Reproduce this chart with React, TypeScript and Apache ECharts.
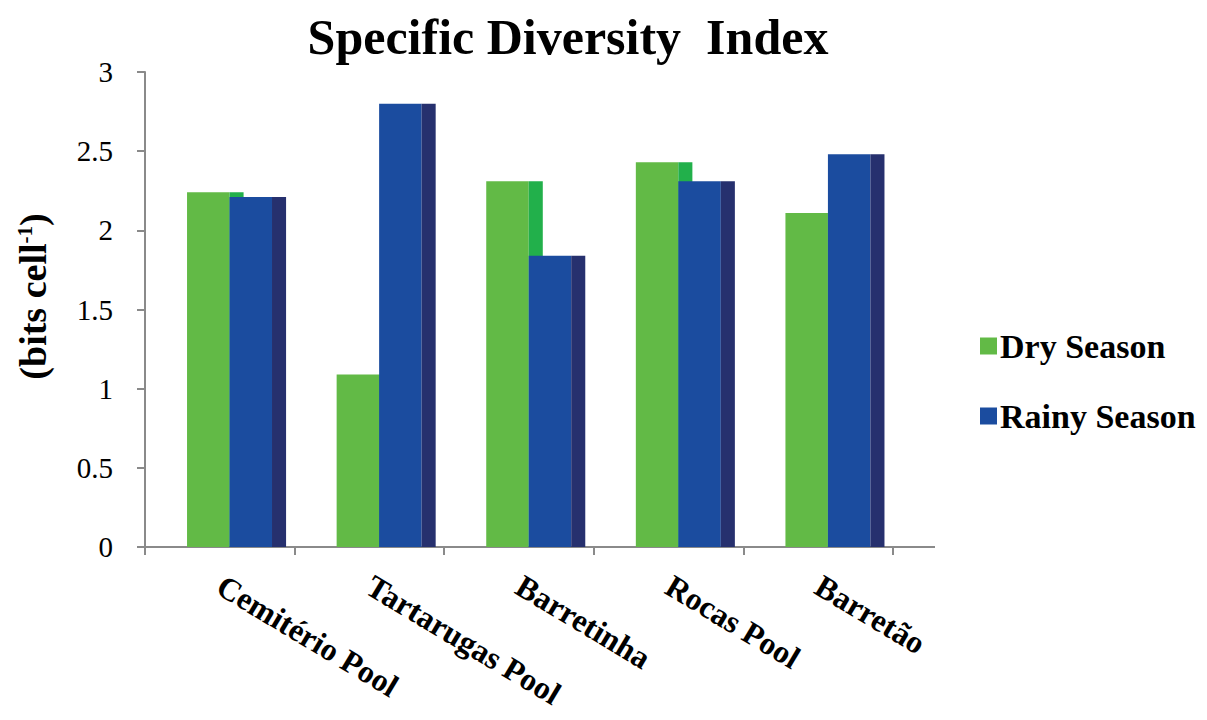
import React, { useEffect, useRef } from "react";
import * as echarts from "echarts";

const categories = ["Cemitério Pool", "Tartarugas Pool", "Barretinha", "Rocas Pool", "Barretão"];
const drySeason = [2.24, 1.09, 2.31, 2.43, 2.11];
const rainySeason = [2.21, 2.8, 1.84, 2.31, 2.48];
const yTicks = { min: 0, max: 3, interval: 0.5 };

const SERIF = "Liberation Serif";

function makeRender(offset: number, front: string, side: string) {
  return (params: any, api: any) => {
    const idx = api.value(0);
    const val = api.value(1);
    const base = api.coord([idx, 0]);
    const top = api.coord([idx, val]);
    const bw = api.size([1, 0])[0];
    const catStart = base[0] - bw / 2;
    const fw = bw * 0.284;
    const sw = bw * 0.094;
    const x0 = catStart + bw * offset;
    const h = base[1] - top[1];
    return {
      type: "group",
      children: [
        { type: "rect", shape: { x: x0, y: top[1], width: fw, height: h }, style: { fill: front } },
        { type: "rect", shape: { x: x0 + fw, y: top[1], width: sw, height: h }, style: { fill: side } },
      ],
    };
  };
}

export default function App() {
  const ref = useRef<HTMLDivElement>(null);
  useEffect(() => {
    if (!ref.current) return;
    const chart = echarts.init(ref.current, null, { renderer: "svg" });
    const dryData = drySeason.map((v, i) => [i, v]);
    const rainyData = rainySeason.map((v, i) => [i, v]);
    chart.setOption({
      animation: false,
      backgroundColor: "#ffffff",
      title: {
        text: "Specific Diversity  Index",
        left: 563,
        top: 7,
        textAlign: "center",
        textStyle: { fontFamily: SERIF, fontWeight: "bold", fontSize: 50, color: "#000" },
      },
      legend: {
        orient: "vertical",
        left: 975,
        top: 323,
        itemWidth: 17,
        itemHeight: 17,
        itemGap: 34,
        icon: "rect",
        textStyle: { fontFamily: SERIF, fontWeight: "bold", fontSize: 34, color: "#000", lineHeight: 36, padding: [0, 0, 0, -2] },
        data: ["Dry Season", "Rainy Season"],
      },
      grid: { left: 145, right: 314, top: 72, bottom: 173, containLabel: false, outerBoundsMode: "none" },
      xAxis: {
        type: "category",
        data: categories,
        axisLine: { show: true, lineStyle: { color: "#8a8a8a", width: 2 } },
        axisTick: { show: true, length: 8, lineStyle: { color: "#8a8a8a", width: 2 } },
        axisLabel: {
          rotate: -31,
          margin: 36,
          fontFamily: SERIF,
          fontWeight: "bold",
          fontSize: 32,
          color: "#000",
          interval: 0,
        },
      },
      yAxis: {
        type: "value",
        min: yTicks.min,
        max: yTicks.max,
        interval: yTicks.interval,
        name: "{a|(bits cell}{s|-1}{a|)}",
        nameLocation: "middle",
        nameGap: 93,
        nameRotate: 90,
        nameTextStyle: {
          padding: [0, 0, 0, 26],
          rich: {
            a: { fontFamily: SERIF, fontWeight: "bold", fontSize: 38, color: "#000" },
            s: { fontFamily: SERIF, fontWeight: "bold", fontSize: 21, color: "#000", verticalAlign: "top", padding: [0, 0, 14, 0] },
          },
        },
        axisLine: { show: true, lineStyle: { color: "#8a8a8a", width: 2 } },
        axisTick: { show: true, length: 8, lineStyle: { color: "#8a8a8a", width: 2 } },
        splitLine: { show: false },
        axisLabel: { fontFamily: SERIF, fontSize: 29, color: "#000", margin: 32 },
      },
      graphic: [
        { type: "line", shape: { x1: 893, y1: 547, x2: 935, y2: 547 }, style: { stroke: "#8a8a8a", lineWidth: 2 } },
      ],
      series: [
        {
          name: "Dry Season",
          type: "custom",
          itemStyle: { color: "#62BA46" },
          encode: { x: 0, y: 1 },
          data: dryData,
          renderItem: makeRender(0.281, "#62BA46", "#22B04B"),
        },
        {
          name: "Rainy Season",
          type: "custom",
          itemStyle: { color: "#1B4C9F" },
          encode: { x: 0, y: 1 },
          data: rainyData,
          renderItem: makeRender(0.565, "#1B4C9F", "#26306E"),
        },
      ],
    });
    return () => chart.dispose();
  }, []);
  return (
    <div
      ref={ref}
      style={{ position: "fixed", left: 0, top: 0, width: 1207, height: 720, background: "#fff" }}
    />
  );
}
